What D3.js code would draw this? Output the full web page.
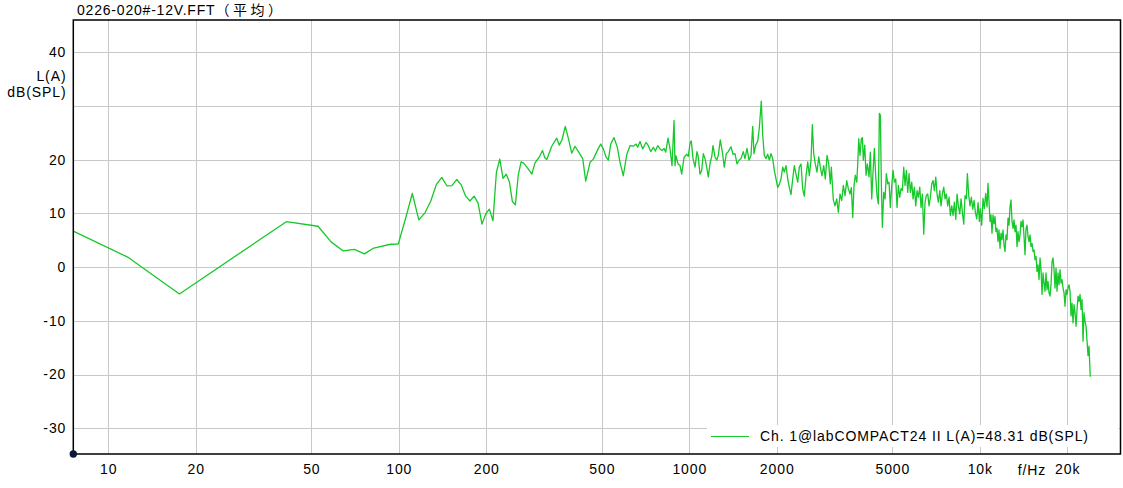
<!DOCTYPE html>
<html><head><meta charset="utf-8">
<script src="https://cdn.jsdelivr.net/npm/d3@7"></script>
<style>
body{margin:0;background:#fff}
svg{display:block}
text{font-family:"Liberation Sans",Arial,sans-serif;font-size:14px;fill:#000;letter-spacing:0.9px}
</style>
</head><body>
<svg id="chart" width="1123" height="488"></svg>
<script>
const chartTitleLatin = "0226-020#-12V.FFT";
const chartTitleCjk = "（平均）";
const yUnitLabels = ["L(A)", "dB(SPL)"];
const xUnitLabel = "f/Hz";
const legendLabel = "Ch. 1@labCOMPACT24 II L(A)=48.31 dB(SPL)";
const xTickValues = [10, 20, 50, 100, 200, 500, 1000, 2000, 5000, 10000, 20000];
const xTickLabels = ["10", "20", "50", "100", "200", "500", "1000", "2000", "5000", "10k", "20k"];
const yGridValues = [-30, -20, -10, 0, 10, 20, 30, 40];
const yTickValues = [-30, -20, -10, 0, 10, 20, 40];
const yTickLabels = ["-30", "-20", "-10", "0", "10", "20", "40"];

const freqLow = [5.86, 11.72, 17.58, 41.02, 52.73, 58.59, 64.45, 70.31, 76.17, 82.03, 93.75, 99.61,
  105.47, 111.33, 117.19, 123.05, 128.91, 134.77, 140.63, 146.48, 152.34, 158.2, 164.06, 169.92,
  175.78, 181.64, 187.5, 193.36, 199.22, 205.08, 210.94, 216.8, 222.66, 228.52, 234.38, 240.23,
  246.09, 251.95, 257.81, 263.67, 269.53, 275.39, 281.25, 287.11];
const levelLow = [9.6, 1.8, -5.0, 8.45, 7.6, 4.65, 3.0, 3.3, 2.45, 3.55, 4.25, 4.3,
  9.0, 13.7, 8.8, 10.1, 12.3, 15.4, 16.7, 15.1, 15.15, 16.3, 15.3, 13.2,
  12.3, 13.2, 11.9, 8.0, 9.9, 10.8, 8.6, 17.65, 20.1, 16.5, 17.3, 15.9,
  12.2, 11.6, 17.1, 19.6, 19.3, 18.7, 18.0, 17.3];

const freqMid = [294.4, 303.9, 312.4, 317.9, 323.0, 336.1, 349.7, 357.0, 364.6, 374.3, 383.3, 393.8,
  404.2, 418.2, 429.7, 440.0, 455.3, 467.4, 486.3, 495.5, 505.9, 516.8, 526.3, 536.5,
  550.7, 565.3, 577.5, 592.8, 609.0, 625.1, 641.7, 655.5, 664.4, 676.7, 691.3, 709.7,
  722.7, 736.6, 751.9, 763.9, 778.6, 793.0, 805.7, 818.6, 829.6, 844.9, 858.4, 872.1,
  886.1, 893.1, 900.2, 914.6, 929.2, 941.8, 959.1, 979.9, 992.4, 1005.6, 1016.0];
const levelMid = [19.4, 20.4, 21.7, 20.4, 20.0, 22.5, 24.0, 22.7, 23.7, 26.2, 24.0, 21.2,
  22.5, 21.2, 20.2, 16.0, 19.5, 20.1, 22.1, 22.9, 22.0, 20.5, 19.9, 22.9,
  24.1, 22.3, 19.5, 17.0, 20.9, 22.6, 22.5, 22.9, 22.3, 23.4, 22.0, 23.2,
  22.6, 21.5, 22.3, 21.6, 22.6, 22.0, 21.7, 22.1, 21.4, 24.0, 22.0, 18.9,
  27.3, 18.9, 20.7, 19.2, 18.9, 17.3, 20.4, 21.0, 20.6, 23.0, 23.5];

const freqKilo = [1029.8, 1046.3, 1063.0, 1074.0, 1088.5, 1103.3, 1117.4, 1132.5, 1147.9, 1162.5,
  1181.1, 1194.3, 1206.7, 1225.9, 1242.6, 1258.4, 1278.5, 1298.9, 1319.7, 1340.8,
  1362.2, 1391.8, 1414.0, 1436.6, 1459.6, 1482.9, 1506.6, 1534.3, 1555.1, 1580.0,
  1605.2, 1630.9, 1652.9, 1670.1, 1692.8, 1719.8, 1741.8, 1769.6, 1789.3, 1812.2,
  1836.8, 1861.7, 1885.5, 1911.1, 1937.0, 1961.8, 1988.4, 2015.3, 2041.1, 2068.8,
  2096.8, 2123.7, 2152.4, 2181.7, 2209.5, 2239.5, 2269.8, 2298.9, 2330.0, 2361.6,
  2391.8, 2424.3, 2457.1, 2488.6, 2522.3, 2556.6, 2589.2, 2624.3, 2651.5, 2681.0,
  2715.3, 2752.2, 2789.5, 2825.1, 2863.4, 2902.2, 2939.4, 2979.2, 3019.7, 3058.3,
  3082.6, 3131.9, 3174.3, 3217.4, 3258.5];
const levelKilo = [20.2, 18.6, 21.5, 20.5, 17.3, 18.0, 21.1, 20.2, 18.6, 16.8,
  19.6, 20.5, 22.6, 20.5, 19.9, 20.8, 23.7, 21.5, 18.6, 21.1,
  21.5, 22.4, 21.0, 21.1, 19.2, 19.9, 20.2, 21.5, 20.2, 22.1,
  19.9, 20.8, 26.2, 21.1, 22.7, 23.4, 25.9, 30.9, 24.6, 20.8,
  20.2, 21.0, 19.9, 21.1, 20.2, 18.0, 16.4, 14.8, 15.4, 16.4,
  18.6, 17.7, 18.9, 16.4, 14.8, 13.5, 16.4, 18.9, 17.3, 15.8,
  18.6, 19.2, 14.5, 13.2, 17.0, 19.6, 17.0, 19.9, 26.5, 21.1,
  19.2, 17.7, 20.5, 18.6, 17.0, 18.9, 16.4, 20.8, 19.2, 15.5,
  18.6, 12.5, 11.4, 12.7, 10.2];

const freqHigh = [3302.7, 3347.5, 3390.2, 3436.2, 3482.8, 3527.3, 3575.2, 3612.3, 3652.5, 3690.4,
  3728.6, 3770.2, 3800.2, 3830.5, 3870.2, 3910.3, 3941.3, 3972.9, 4017.1, 4058.7,
  4100.8, 4156.4, 4199.5, 4246.3, 4290.3, 4334.8, 4383.1, 4428.5, 4474.5, 4510.1,
  4546.0, 4582.2, 4618.6, 4670.0, 4718.5, 4767.4, 4820.6, 4870.6, 4921.1, 4975.9,
  5027.5, 5079.6, 5136.3, 5189.5, 5243.2, 5301.8, 5356.7, 5412.1, 5472.5, 5529.2,
  5586.5, 5648.9, 5707.4, 5766.6, 5830.9, 5891.3, 5952.4, 6018.8, 6081.2, 6144.1,
  6212.8, 6277.2, 6342.1, 6412.8, 6479.4, 6546.5, 6619.5, 6688.2, 6757.4, 6832.9,
  6903.6, 6975.2, 7052.9, 7126.0, 7199.8, 7280.3, 7355.7, 7431.8, 7514.5, 7592.7,
  7671.2, 7756.9, 7837.3, 7918.5, 8006.9, 8089.8, 8173.7, 8264.8, 8350.4, 8437.0,
  8531.2, 8619.6, 8708.7, 8805.7, 8897.2, 8989.3, 9061.1, 9162.2, 9257.1, 9353.0,
  9457.0, 9555.4, 9654.3, 9762.0, 9863.1, 9965.4];
const levelHigh = [13.6, 12.4, 15.2, 13.3, 16.1, 14.6, 13.6, 14.8, 9.25, 15.2,
  17.1, 15.8, 19.2, 23.9, 20.8, 23.9, 24.1, 19.9, 22.7, 17.1,
  19.2, 16.8, 21.4, 12.7, 17.7, 22.1, 16.8, 13.3, 11.75, 28.6,
  28.3, 15.8, 7.4, 13.9, 12.7, 17.4, 15.5, 15.8, 11.1, 15.2,
  18.0, 15.8, 16.4, 11.1, 15.2, 13.0, 14.6, 14.25, 18.6, 15.2,
  18.0, 13.9, 17.4, 13.9, 15.8, 12.7, 14.9, 11.4, 14.25, 13.0,
  14.9, 11.1, 13.6, 6.1, 12.1, 13.3, 13.6, 11.4, 13.0, 15.5,
  16.1, 14.25, 16.75, 13.6, 12.1, 14.25, 11.4, 13.6, 14.9, 12.7,
  13.6, 11.4, 13.0, 9.6, 11.4, 9.6, 12.1, 8.9, 13.6, 11.4,
  9.9, 12.7, 10.2, 8.0, 13.3, 12.7, 17.4, 13.3, 11.4, 13.0,
  10.8, 12.4, 10.2, 9.0, 12.0, 8.5];

const freqTop = [10040, 10152, 10257, 10363, 10479, 10588, 10672, 10757, 10842, 10928,
  11015, 11103, 11191, 11280, 11370, 11461, 11552, 11644, 11737, 11830,
  11924, 12019, 12115, 12212, 12309, 12407, 12506, 12605, 12706, 12807,
  12909, 13012, 13115, 13220, 13325, 13431, 13538, 13645, 13754, 13863,
  13974, 14085, 14197, 14310, 14424, 14539, 14654, 14771, 14889, 15007,
  15127, 15247, 15368, 15491, 15614, 15738, 15864, 15990, 16117, 16245,
  16375, 16505, 16636, 16769, 16902, 17037, 17172, 17309, 17447, 17586,
  17726, 17867, 18009, 18152, 18297, 18442, 18589, 18737, 18887, 19037,
  19189, 19341, 19495, 19650, 19807, 19965, 20123, 20284, 20445, 20608,
  20772, 20937, 21104, 21272, 21441, 21612, 21784, 21957, 22132, 22308,
  22486, 22665, 22845, 23027, 23210, 23395, 23581, 23769, 23900, 24000];
const levelTop = [10.9, 7.8, 12.8, 10.9, 13.7, 11.2, 15.6, 12.2, 8.5, 9.7,
  6.3, 9.7, 8.1, 9.4, 6.6, 7.2, 4.75, 6.9, 3.5, 6.3,
  5.1, 6.9, 4.1, 2.9, 6.0, 5.1, 9.1, 7.8, 11.2, 12.5,
  8.5, 7.2, 8.8, 6.6, 7.8, 3.8, 6.6, 4.75, 6.0, 8.5,
  7.5, 8.8, 5.7, 2.3, 7.2, 7.8, 5.7, 4.75, 6.0, 3.8,
  4.4, 2.9, 3.2, 1.4, 2.0, -0.8, 0.4, -2.3, 1.7, -0.5,
  -5.1, -1.1, -3.0, -4.5, -1.1, -4.2, -2.65, -4.8, -5.4, -3.3,
  1.0, 1.7, -0.5, -3.9, -0.2, -4.5, -1.1, -3.3, -0.5, -3.0,
  -2.35, -3.9, -4.8, -7.3, -4.2, -5.1, -3.9, -3.3, -4.5, -9.1,
  -6.7, -10.4, -7.0, -8.5, -11.0, -7.9, -5.4, -6.4, -5.1, -7.9,
  -6.0, -13.8, -8.5, -10.1, -11.0, -13.8, -16.5, -14.7, -18.1, -20.4];

const freqHz = [...freqLow, ...freqMid, ...freqKilo, ...freqHigh, ...freqTop];
const levelDb = [...levelLow, ...levelMid, ...levelKilo, ...levelHigh, ...levelTop];

(function draw() {
  const series = freqHz.map((f, i) => ({f, db: levelDb[i]}));
  const svg = d3.select("#chart");
  const pLeft = 73.3, pRight = 1120.5, pTop = 20, pBottom = 454;
  const x = d3.scaleLog().domain([7.58, 30500]).range([pLeft, pRight]);
  const y = d3.scaleLinear().domain([-34.8, 46]).range([pBottom, pTop]);
  const snap = v => Math.round(v) + 0.5;
  const font = "Liberation Sans, Arial, sans-serif";
  const green = "#16c82a";

  const grid = svg.append("g");
  grid.selectAll("line.v").data(xTickValues).join("line").attr("class", "v")
    .attr("x1", d => snap(x(d))).attr("x2", d => snap(x(d)))
    .attr("y1", pTop).attr("y2", pBottom)
    .attr("stroke", "#c8c8c8").attr("stroke-width", 1);
  grid.selectAll("line.h").data(yGridValues).join("line").attr("class", "h")
    .attr("x1", pLeft).attr("x2", pRight)
    .attr("y1", d => snap(y(d))).attr("y2", d => snap(y(d)))
    .attr("stroke", "#c8c8c8").attr("stroke-width", 1);

  svg.append("clipPath").attr("id", "plotclip").append("rect")
    .attr("x", pLeft).attr("y", pTop).attr("width", pRight - pLeft).attr("height", pBottom - pTop);
  const line = d3.line().x(d => x(d.f)).y(d => y(d.db));
  svg.append("path").datum(series)
    .attr("clip-path", "url(#plotclip)")
    .attr("fill", "none").attr("stroke", green).attr("stroke-width", 1.3)
    .attr("stroke-linejoin", "round")
    .attr("d", line);

  const lg = svg.append("g");
  lg.append("rect").attr("x", 707).attr("y", 425).attr("width", 412).attr("height", 22).attr("fill", "#fff");
  lg.append("line").attr("x1", 711).attr("x2", 749).attr("y1", 436.5).attr("y2", 436.5)
    .attr("stroke", green).attr("stroke-width", 1.2);
  lg.append("text").attr("x", 760).attr("y", 441).text(legendLabel);

  svg.append("rect").attr("x", pLeft).attr("y", pTop).attr("width", pRight - pLeft).attr("height", pBottom - pTop)
    .attr("fill", "none").attr("stroke", "#000").attr("stroke-width", 1.5);

  const gx = svg.append("g").attr("transform", `translate(0,${pBottom})`)
    .call(d3.axisBottom(x).tickValues(xTickValues).tickFormat((d, i) => xTickLabels[i]).tickSize(0).tickPadding(10.5));
  gx.select(".domain").remove();
  gx.selectAll("text").attr("font-size", 14).attr("font-family", font).attr("fill", "#000");
  svg.append("text").attr("x", 1032).attr("y", pBottom + 20.5).attr("text-anchor", "middle").text(xUnitLabel);

  const gy = svg.append("g").attr("transform", `translate(${pLeft},0)`)
    .call(d3.axisLeft(y).tickValues(yTickValues).tickFormat((d, i) => yTickLabels[i]).tickSize(0).tickPadding(7));
  gy.select(".domain").remove();
  gy.selectAll("text").attr("font-size", 14).attr("font-family", font).attr("fill", "#000");

  svg.selectAll("text.unit").data(yUnitLabels).join("text").attr("class", "unit")
    .attr("x", 66.5).attr("y", (d, i) => 80.5 + i * 16).attr("text-anchor", "end").text(d => d);

  const t = svg.append("text").attr("x", 77).attr("y", 15).attr("fill", "#222");
  t.append("tspan").style("letter-spacing", "0.8px").text(chartTitleLatin);
  t.append("tspan").attr("font-size", 14).style("letter-spacing", "3.5px")
    .attr("font-family", "Noto Sans CJK SC, sans-serif").text(chartTitleCjk);

  svg.append("circle").attr("cx", pLeft).attr("cy", pBottom).attr("r", 3.7).attr("fill", "#0b1a33");
})();
</script>
</body></html>
